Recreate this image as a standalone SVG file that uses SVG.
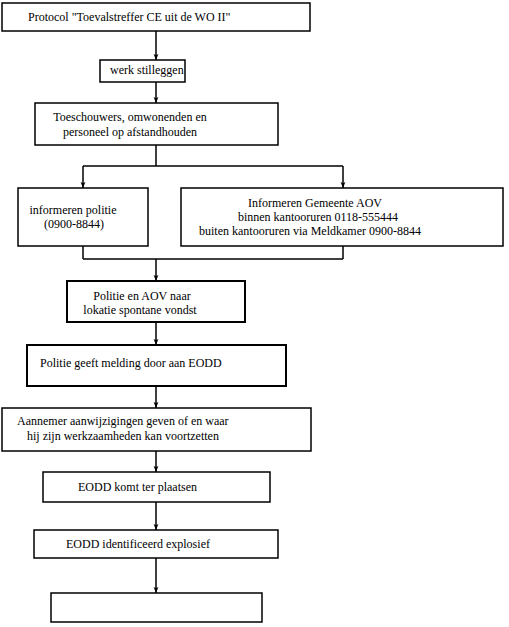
<svg xmlns="http://www.w3.org/2000/svg" width="509" height="627" viewBox="0 0 509 627">
<style>
.box{fill:#fff;stroke:#000;stroke-width:1.5}
.thick{stroke-width:2}
.ln{fill:none;stroke:#000;stroke-width:1.5}
.t{font-family:'Liberation Serif',serif;font-size:12px;fill:#000}
</style>
<defs>
<marker id="ah" viewBox="0 0 10 10" refX="10" refY="5" markerWidth="6" markerHeight="6" orient="auto" markerUnits="userSpaceOnUse">
<path d="M0,1 L10,5 L0,9 L2,5 z" fill="#000"/>
</marker>
</defs>
<g id="connectors">
<line class="ln" x1="156" y1="31" x2="156" y2="60" marker-end="url(#ah)"/>
<line class="ln" x1="156" y1="82" x2="156" y2="103" marker-end="url(#ah)"/>
<polyline class="ln" points="156,145 156,166"/>
<line class="ln" x1="83" y1="166" x2="343" y2="166"/>
<line class="ln" x1="83" y1="166" x2="83" y2="188" marker-end="url(#ah)"/>
<line class="ln" x1="343" y1="166" x2="343" y2="188" marker-end="url(#ah)"/>
<line class="ln" x1="83" y1="246" x2="83" y2="259"/>
<line class="ln" x1="343" y1="246" x2="343" y2="259"/>
<line class="ln" x1="83" y1="259" x2="343" y2="259"/>
<line class="ln" x1="156" y1="259" x2="156" y2="281" marker-end="url(#ah)"/>
<line class="ln" x1="156" y1="322" x2="156" y2="345" marker-end="url(#ah)"/>
<line class="ln" x1="156" y1="386" x2="156" y2="408" marker-end="url(#ah)"/>
<line class="ln" x1="156" y1="451" x2="156" y2="472" marker-end="url(#ah)"/>
<line class="ln" x1="156" y1="502" x2="156" y2="530" marker-end="url(#ah)"/>
<line class="ln" x1="156" y1="558" x2="156" y2="593" marker-end="url(#ah)"/>
</g>
<g id="n1"><rect class="box" x="2" y="3" width="308" height="28"/><text class="t" x="28" y="21">Protocol "Toevalstreffer CE uit de WO II"</text></g>
<g id="n2"><rect class="box" x="100" y="60" width="85" height="22"/><text class="t" x="110" y="74">werk stilleggen</text></g>
<g id="n3"><rect class="box" x="35" y="103" width="243" height="42"/><text class="t" x="130" y="121" text-anchor="middle">Toeschouwers, omwonenden en</text><text class="t" x="130" y="136" text-anchor="middle">personeel op afstandhouden</text></g>
<g id="n4"><rect class="box" x="18" y="188" width="130" height="58"/><text class="t" x="73" y="214" text-anchor="middle">informeren politie</text><text class="t" x="74" y="228" text-anchor="middle">(0900-8844)</text></g>
<g id="n5"><rect class="box" x="181" y="188" width="322" height="58"/><text class="t" x="315" y="207" text-anchor="middle">Informeren Gemeente AOV</text><text class="t" x="318" y="221" text-anchor="middle">binnen kantooruren 0118-555444</text><text class="t" x="310" y="235" text-anchor="middle">buiten kantooruren via Meldkamer 0900-8844</text></g>
<g id="n6"><rect class="box thick" x="67" y="281" width="178" height="41"/><text class="t" x="142" y="300" text-anchor="middle">Politie en AOV naar</text><text class="t" x="140" y="314" text-anchor="middle">lokatie spontane vondst</text></g>
<g id="n7"><rect class="box thick" x="27" y="345" width="259" height="41"/><text class="t" x="40" y="367">Politie geeft melding door aan EODD</text></g>
<g id="n8"><rect class="box" x="2" y="408" width="309" height="43"/><text class="t" x="17" y="425">Aannemer aanwijzigingen geven of en waar</text><text class="t" x="27" y="440">hij zijn werkzaamheden kan voortzetten</text></g>
<g id="n9"><rect class="box" x="43" y="472" width="227" height="30"/><text class="t" x="78" y="491">EODD komt ter plaatsen</text></g>
<g id="n10"><rect class="box" x="34" y="530" width="244" height="28"/><text class="t" x="66" y="548">EODD identificeerd explosief</text></g>
<g id="n11"><rect class="box" x="51" y="593" width="211" height="29"/></g>
</svg>
